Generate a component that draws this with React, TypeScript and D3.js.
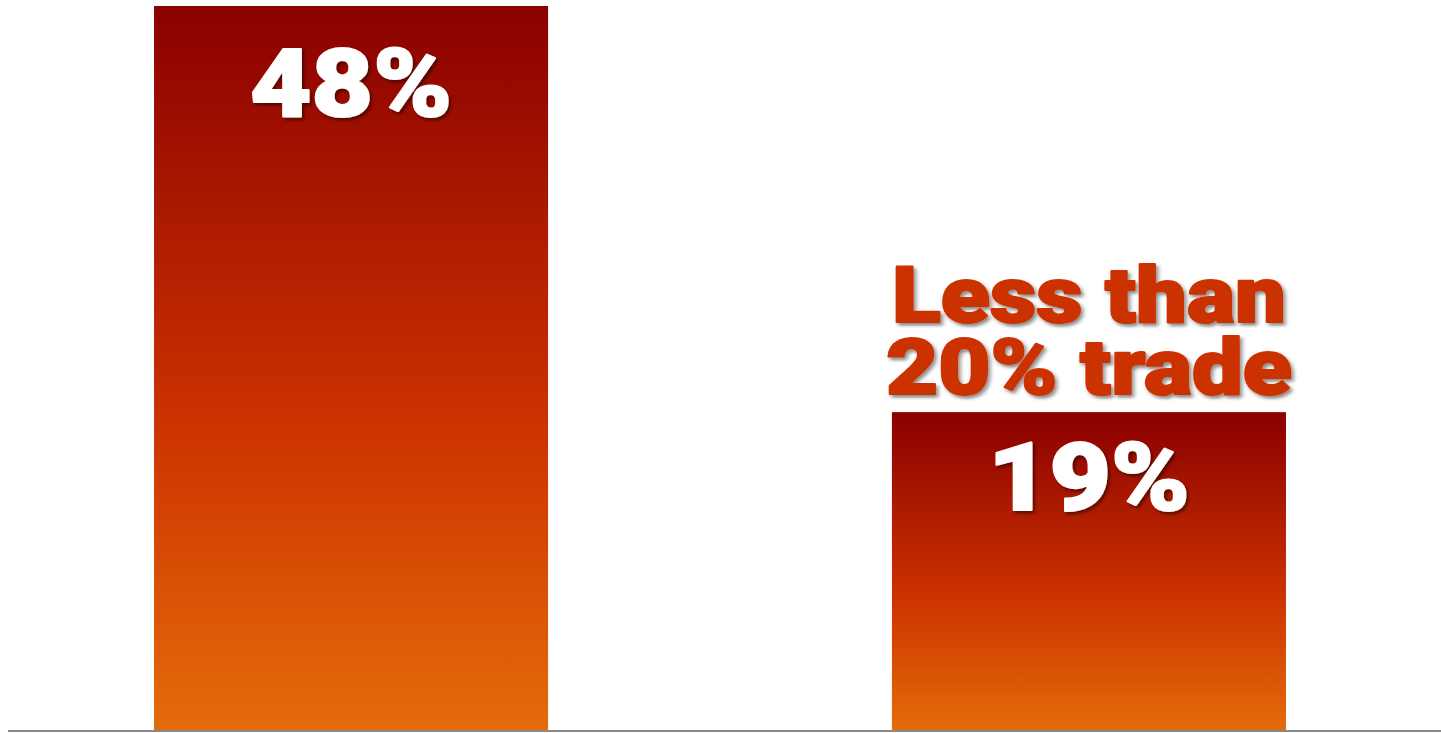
import React from "react";
import * as d3 from "d3";

const categories = ["Group A", "Group B"];
const values = [48, 19];
const valueLabels = ["48%", "19%"];
const annotationLines = ["Less than", "20% trade"];
const annotationIndex = 1;
const yDomainMax = 43.2;

const W = 1441;
const H = 733;
const baseY = 731;
const topY = 6;

export default function App() {
  const x = d3
    .scaleBand<string>()
    .domain(categories)
    .range([3.5, 1436.5])
    .paddingInner(0.466)
    .paddingOuter(0.204);
  const y = d3.scaleLinear().domain([0, yDomainMax]).range([baseY, topY]).clamp(true);
  const bw = x.bandwidth();
  const font = "Roboto, 'DejaVu Sans', sans-serif";
  const labelOffsets = [110, 98];
  const ac = categories[annotationIndex];
  const acx = x(ac)! + bw / 2;
  const ayt = y(values[annotationIndex]);

  return (
    <svg
      width={W}
      height={H}
      style={{ position: "absolute", left: 0, top: 0, background: "#fff" }}
    >
      <defs>
        <linearGradient id="barGrad" x1="0" y1="0" x2="0" y2="1">
          <stop offset="0" stopColor="#8B0000" />
          <stop offset="0.58" stopColor="#CC3300" />
          <stop offset="1" stopColor="#E46C0A" />
        </linearGradient>
        <filter id="shadow" x="-10%" y="-10%" width="130%" height="140%">
          <feDropShadow dx="2" dy="2.5" stdDeviation="1.6" floodColor="#000" floodOpacity="0.45" />
        </filter>
      </defs>
      {categories.map((c, i) => {
        const yt = y(values[i]);
        const x0 = x(c)!;
        return (
          <g key={c}>
            <rect x={x0} y={yt} width={bw} height={baseY - yt} fill="url(#barGrad)" />
            <text
              transform={`translate(${x0 + bw / 2},${yt + labelOffsets[i]}) scale(1.13,1)`}
              textAnchor="middle"
              fill="#fff"
              stroke="#fff"
              strokeWidth={2}
              strokeLinejoin="round"
              fontFamily={font}
              fontWeight={900}
              fontSize={94}
              filter="url(#shadow)"
            >
              {valueLabels[i]}
            </text>
          </g>
        );
      })}
      <text
        transform={`translate(${acx},${ayt - 90}) scale(1.22,1.06)`}
        textAnchor="middle"
        fill="#CC3300"
        stroke="#CC3300"
        strokeWidth={2}
        strokeLinejoin="round"
        fontFamily={font}
        fontWeight={900}
        fontSize={74}
        filter="url(#shadow)"
      >
        {annotationLines.map((t, j) => (
          <tspan key={t} x={0} dy={j === 0 ? 0 : 72 / 1.06}>
            {t}
          </tspan>
        ))}
      </text>
      <line x1={8} x2={W} y1={baseY} y2={baseY} stroke="#898989" strokeWidth={2} />
    </svg>
  );
}
